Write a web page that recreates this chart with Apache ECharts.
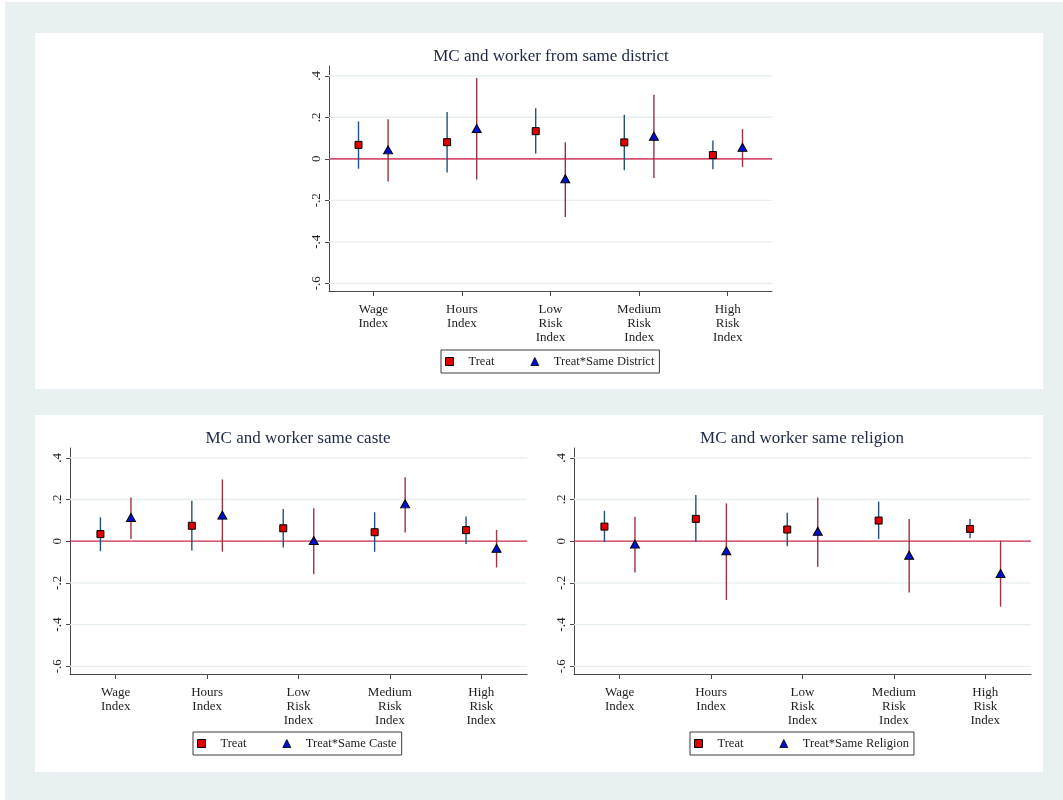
<!DOCTYPE html>
<html>
<head>
<meta charset="utf-8">
<script src="https://cdn.jsdelivr.net/npm/echarts@6/dist/echarts.min.js"></script>
<style>
  html, body { margin: 0; padding: 0; background: #fff; }
  #frame { position: absolute; left: 5px; top: 2px; width: 1058px; height: 798px; background: #E8F0F2; }
  .panel { position: absolute; background: #fff; }
  #chart { position: absolute; left: 0; top: 0; width: 1063px; height: 800px; }
</style>
</head>
<body>
<div id="frame"></div>
<div class="panel" style="left:35px;top:33px;width:1008px;height:356px;"></div>
<div class="panel" style="left:35px;top:415px;width:1008px;height:357px;"></div>
<div id="chart"></div>
<script>
// Outcome indices on the horizontal axis
const categories = ['Wage\nIndex', 'Hours\nIndex', 'Low\nRisk\nIndex', 'Medium\nRisk\nIndex', 'High\nRisk\nIndex'];

// Vertical axis ticks
const yTickValues = [-0.6, -0.4, -0.2, 0, 0.2, 0.4];
const yTickLabels = ['-.6', '-.4', '-.2', '0', '.2', '.4'];

// Panel 1: MC and worker from same district
const districtTreat   = [0.067, 0.080, 0.133, 0.079, 0.018];
const districtTreatLo = [-0.048, -0.066, 0.026, -0.055, -0.050];
const districtTreatHi = [0.180, 0.225, 0.243, 0.212, 0.088];
const districtInter   = [0.043, 0.146, -0.096, 0.109, 0.055];
const districtInterLo = [-0.110, -0.100, -0.281, -0.093, -0.040];
const districtInterHi = [0.190, 0.389, 0.080, 0.308, 0.143];

// Panel 2: MC and worker same caste
const casteTreat   = [0.034, 0.074, 0.062, 0.043, 0.053];
const casteTreatLo = [-0.048, -0.045, -0.030, -0.051, -0.013];
const casteTreatHi = [0.115, 0.194, 0.154, 0.139, 0.118];
const casteInter   = [0.114, 0.125, 0.003, 0.179, -0.034];
const casteInterLo = [0.011, -0.050, -0.158, 0.042, -0.126];
const casteInterHi = [0.210, 0.296, 0.158, 0.307, 0.054];

// Panel 3: MC and worker same religion
const religionTreat   = [0.070, 0.107, 0.056, 0.099, 0.059];
const religionTreatLo = [-0.003, -0.003, -0.024, 0.010, 0.014];
const religionTreatHi = [0.146, 0.222, 0.136, 0.190, 0.106];
const religionInter   = [-0.014, -0.046, 0.048, -0.067, -0.155];
const religionInterLo = [-0.150, -0.282, -0.122, -0.246, -0.314];
const religionInterHi = [0.117, 0.181, 0.210, 0.107, 0.002];

const panels = [
  { title: 'MC and worker from same district', interName: 'Treat*Same District',
    treat: districtTreat, treatLo: districtTreatLo, treatHi: districtTreatHi,
    inter: districtInter, interLo: districtInterLo, interHi: districtInterHi },
  { title: 'MC and worker same caste', interName: 'Treat*Same Caste',
    treat: casteTreat, treatLo: casteTreatLo, treatHi: casteTreatHi,
    inter: casteInter, interLo: casteInterLo, interHi: casteInterHi },
  { title: 'MC and worker same religion', interName: 'Treat*Same Religion',
    treat: religionTreat, treatLo: religionTreatLo, treatHi: religionTreatHi,
    inter: religionInter, interLo: religionInterLo, interHi: religionInterHi }
];

// Layout of each plot region (pixels)
const layout = [
  { grid: { left: 329, top: 66, width: 443, height: 225 }, titleX: 551, titleY: 56.5,
    legend: { left: 441, top: 350 }, zeroWidth: 1.8, zeroColor: '#D4506F' },
  { grid: { left: 70, top: 448, width: 457, height: 226 }, titleX: 298, titleY: 439,
    legend: { left: 193, top: 732 }, zeroWidth: 1.3, zeroColor: '#C8284A' },
  { grid: { left: 574, top: 448, width: 457, height: 226 }, titleX: 802, titleY: 439,
    legend: { left: 690, top: 732 }, zeroWidth: 1.3, zeroColor: '#C8284A' }
];

const Y_MIN = -0.637, Y_MAX = 0.447;
const X_MIN = 0.5, X_MAX = 5.5;
const OFFSET = 0.167;
const SERIF = 'Liberation Serif';
const TREAT_CI = '#24527F';
const INTER_CI = '#9A3444';
const GRID_LINE = '#E6EEF0';

function yLabel(v) {
  for (let i = 0; i < yTickValues.length; i++) {
    if (Math.abs(yTickValues[i] - v) < 1e-6) return yTickLabels[i];
  }
  return '';
}

const grids = [], xAxes = [], yAxes = [], series = [], legends = [], graphics = [];

panels.forEach((p, k) => {
  const L = layout[k];
  grids.push(Object.assign({ containLabel: false }, L.grid));

  xAxes.push({
    type: 'value', gridIndex: k, min: X_MIN, max: X_MAX,
    axisLine: { show: true, onZero: false, lineStyle: { color: '#4a4a4a', width: 1 } },
    axisTick: { show: true, length: 5, customValues: [1, 2, 3, 4, 5], lineStyle: { color: '#4a4a4a' } },
    axisLabel: {
      customValues: [1, 2, 3, 4, 5],
      formatter: v => categories[Math.round(v) - 1],
      fontFamily: SERIF, fontSize: 13, lineHeight: 14, color: '#1e1e1e', margin: 12
    },
    splitLine: { show: false }
  });

  yAxes.push({
    type: 'value', gridIndex: k, min: Y_MIN, max: Y_MAX,
    axisLine: { show: true, onZero: false, lineStyle: { color: '#4a4a4a', width: 1 } },
    axisTick: { show: true, length: 4, customValues: yTickValues, lineStyle: { color: '#4a4a4a' } },
    axisLabel: {
      customValues: yTickValues, formatter: yLabel, rotate: 90,
      fontFamily: SERIF, fontSize: 13, color: '#1e1e1e', margin: 6
    },
    splitLine: { show: false }
  });

  // horizontal grid lines and the zero reference line
  series.push({
    type: 'custom', name: 'grid' + k, xAxisIndex: k, yAxisIndex: k, z: 1, silent: true,
    data: yTickValues.map(v => [v]),
    encode: { y: 0 },
    renderItem: (params, api) => {
      const v = api.value(0);
      const a = api.coord([X_MIN, v]);
      const b = api.coord([X_MAX, v]);
      const zero = Math.abs(v) < 1e-9;
      return {
        type: 'line',
        shape: { x1: a[0], y1: a[1], x2: b[0], y2: b[1] },
        style: { stroke: zero ? L.zeroColor : GRID_LINE, lineWidth: zero ? L.zeroWidth : 1.3 }
      };
    }
  });

  // confidence interval whiskers
  const ciSeries = (lo, hi, off, color, nm) => ({
    type: 'custom', name: nm, xAxisIndex: k, yAxisIndex: k, z: 3, silent: true,
    data: lo.map((l, i) => [i + 1 + off, l, hi[i]]),
    encode: { x: 0, y: [1, 2] },
    renderItem: (params, api) => {
      const a = api.coord([api.value(0), api.value(1)]);
      const b = api.coord([api.value(0), api.value(2)]);
      return {
        type: 'line',
        shape: { x1: a[0], y1: a[1], x2: b[0], y2: b[1] },
        style: { stroke: color, lineWidth: 1.4 }
      };
    }
  });
  series.push(ciSeries(p.treatLo, p.treatHi, -OFFSET, TREAT_CI, 'ciTreat' + k));
  series.push(ciSeries(p.interLo, p.interHi, OFFSET, INTER_CI, 'ciInter' + k));

  // point estimates
  series.push({
    type: 'scatter', name: 'Treat', xAxisIndex: k, yAxisIndex: k, z: 5,
    symbol: 'rect', symbolSize: 7,
    itemStyle: { color: '#E00000', borderColor: '#000', borderWidth: 1, opacity: 1 },
    data: p.treat.map((v, i) => [i + 1 - OFFSET, v])
  });
  series.push({
    type: 'scatter', name: p.interName, xAxisIndex: k, yAxisIndex: k, z: 5,
    symbol: 'triangle', symbolSize: [9, 8],
    itemStyle: { color: '#0010D0', borderColor: '#000', borderWidth: 1, opacity: 1 },
    data: p.inter.map((v, i) => [i + 1 + OFFSET, v])
  });

  legends.push({
    show: true, selectedMode: false, orient: 'horizontal',
    left: L.legend.left, top: L.legend.top,
    data: [
      { name: 'Treat', icon: 'rect', itemStyle: { color: '#E00000', borderColor: '#000', borderWidth: 1 } },
      { name: p.interName, icon: 'triangle', itemStyle: { color: '#0010D0', borderColor: '#000', borderWidth: 0.8 } }
    ],
    itemWidth: 8, itemHeight: 8, itemGap: 36,
    padding: [5, 5, 5, 4],
    borderColor: '#3a3a3a', borderWidth: 1, backgroundColor: '#fff',
    textStyle: { fontFamily: SERIF, fontSize: 12.5, color: '#1e1e1e', padding: [0, 0, 0, 10] }
  });

  graphics.push({
    type: 'text', x: L.titleX, y: L.titleY, silent: true,
    style: {
      text: p.title, fontFamily: SERIF, fontSize: 17, fill: '#1C2846',
      textAlign: 'center', textVerticalAlign: 'middle'
    }
  });
});

const chart = echarts.init(document.getElementById('chart'), null, { renderer: 'canvas' });
chart.setOption({
  backgroundColor: 'transparent',
  animation: false,
  grid: grids,
  xAxis: xAxes,
  yAxis: yAxes,
  legend: legends,
  graphic: graphics,
  tooltip: { show: false },
  series: series
});
</script>
</body>
</html>
